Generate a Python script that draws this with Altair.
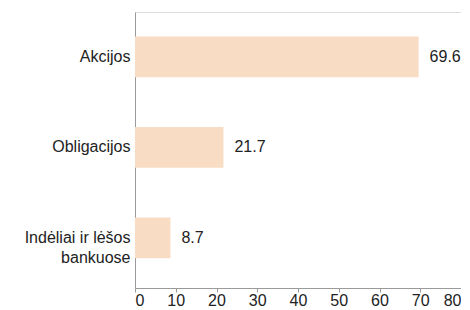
import altair as alt
import pandas as pd

categories = ["Akcijos", "Obligacijos", "Indėliai ir lėšos\nbankuose"]
values = [69.6, 21.7, 8.7]
labels = ["69.6", "21.7", "8.7"]

df = pd.DataFrame({"cat": categories, "val": values, "lab": labels})

FONT = "Liberation Sans"
y = alt.Y("cat:N", sort=categories, title=None,
          scale=alt.Scale(paddingInner=0.55, paddingOuter=0.3, align=0.45),
          axis=alt.Axis(ticks=False, domainColor="#9a9a9a", labelFont=FONT, labelFontSize=16,
                        labelColor="#222222", labelPadding=5, labelLimit=200,
                        labelLineHeight=20,
                        labelExpr="split(datum.value, '\\n')"))
x = alt.X("val:Q", title=None,
          scale=alt.Scale(domain=[0, 80], nice=False),
          axis=alt.Axis(values=[0, 10, 20, 30, 40, 50, 60, 70, 80], grid=False,
                        domainColor="#9a9a9a", tickColor="#9a9a9a", tickSize=4,
                        labelFont=FONT, labelFontSize=16, labelColor="#222222",
                        labelPadding=0))

bars = alt.Chart(df).mark_bar(color="#f8dcc3").encode(x=x, y=y)
text = alt.Chart(df).mark_text(align="left", baseline="middle", dx=11, font=FONT,
                               fontSize=16, color="#222222").encode(x=x, y=y, text="lab:N")

chart = (bars + text).properties(
    width=326, height=276,
    autosize=alt.AutoSizeParams(type="none"),
    padding={"left": 127, "top": 4, "right": 0, "bottom": 26},
).configure_view(stroke=None).configure(background="white")

chart.save("out.html", embed_options={"renderer": "svg", "actions": False})
